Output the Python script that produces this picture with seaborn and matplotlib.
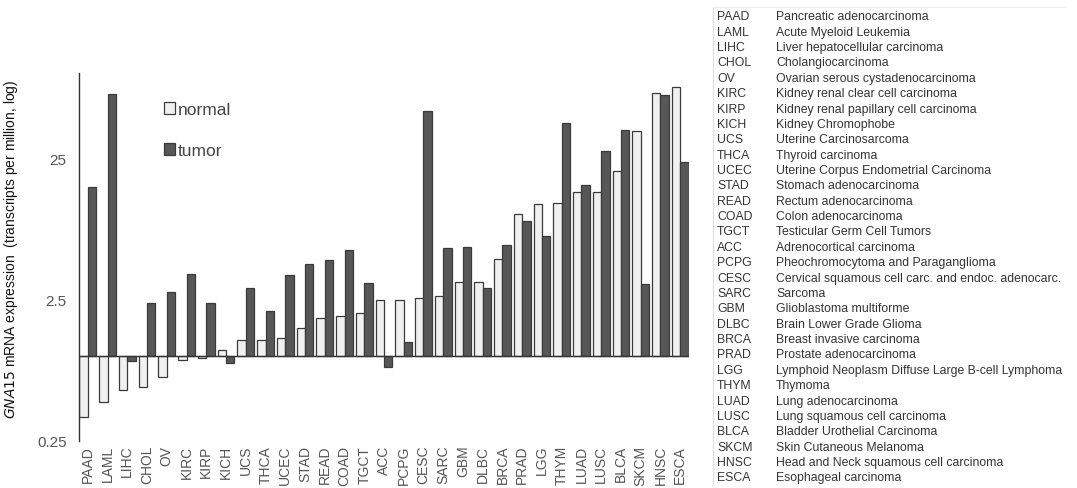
import numpy as np
import pandas as pd
import matplotlib
matplotlib.use("Agg")
import matplotlib.pyplot as plt
from matplotlib.patches import Patch
from matplotlib.lines import Line2D
import seaborn as sns

categories = ["PAAD", "LAML", "LIHC", "CHOL", "OV", "KIRC", "KIRP", "KICH", "UCS", "THCA",
              "UCEC", "STAD", "READ", "COAD", "TGCT", "ACC", "PCPG", "CESC", "SARC", "GBM",
              "DLBC", "BRCA", "PRAD", "LGG", "THYM", "LUAD", "LUSC", "BLCA", "SKCM", "HNSC", "ESCA"]
normal = [0.37, 0.47, 0.57, 0.60, 0.71, 0.93, 0.96, 1.10, 1.28, 1.28,
          1.33, 1.58, 1.84, 1.91, 1.99, 2.49, 2.49, 2.55, 2.65, 3.31,
          3.31, 4.85, 10.1, 11.8, 12.0, 14.5, 14.5, 20.3, 38.8, 72.5, 79.0]
tumor = [15.6, 71.0, 0.91, 2.35, 2.80, 3.77, 2.35, 0.88, 3.02, 2.06,
         3.69, 4.47, 4.74, 5.62, 3.24, 0.83, 1.24, 53.5, 5.74, 5.83,
         3.02, 6.06, 9.0, 7.06, 44.2, 16.2, 28.1, 39.6, 3.19, 69.5, 23.3]
full_names = ["Pancreatic adenocarcinoma", "Acute Myeloid Leukemia", "Liver hepatocellular carcinoma",
              "Cholangiocarcinoma", "Ovarian serous cystadenocarcinoma", "Kidney renal clear cell carcinoma",
              "Kidney renal papillary cell carcinoma", "Kidney Chromophobe", "Uterine Carcinosarcoma",
              "Thyroid carcinoma", "Uterine Corpus Endometrial Carcinoma", "Stomach adenocarcinoma",
              "Rectum adenocarcinoma", "Colon adenocarcinoma", "Testicular Germ Cell Tumors",
              "Adrenocortical carcinoma", "Pheochromocytoma and Paraganglioma",
              "Cervical squamous cell carc. and endoc. adenocarc.", "Sarcoma", "Glioblastoma multiforme",
              "Brain Lower Grade Glioma", "Breast invasive carcinoma", "Prostate adenocarcinoma",
              "Lymphoid Neoplasm Diffuse Large B-cell Lymphoma", "Thymoma", "Lung adenocarcinoma",
              "Lung squamous cell carcinoma", "Bladder Urothelial Carcinoma", "Skin Cutaneous Melanoma",
              "Head and Neck squamous cell carcinoma", "Esophageal carcinoma"]
y_ticks = [0.25, 2.5, 25]
y_tick_labels = ["0.25", "2.5", "25"]
groups = ["normal", "tumor"]

sns.set_style("white")
plt.rcParams['font.family'] = ['Liberation Sans', 'DejaVu Sans']

df = pd.DataFrame({
    "cancer": categories * 2,
    "group": ["normal"] * len(categories) + ["tumor"] * len(categories),
    "tpm": normal + tumor,
})
df["logtpm"] = np.log10(df["tpm"])

W, H = 1077, 489
fig = plt.figure(figsize=(W / 100, H / 100), dpi=100)
ax_w = 689 - 79
ax_h = 441.7 - 74
ax = fig.add_axes([79 / W, (H - 441.7) / H, ax_w / W, ax_h / H])

palette = {"normal": "#f0f0f0", "tumor": "#575757"}
sns.barplot(data=df, x="cancer", y="logtpm", hue="group", hue_order=groups,
            order=categories, palette=palette, width=0.85, gap=0,
            edgecolor="#3a3a3a", linewidth=0.9, saturation=1, ax=ax, legend=False)

ax.set_xlim(-0.45, len(categories) - 0.55)
ax.set_ylim(np.log10(0.25), 2.0)
ax.set_yticks(np.log10(y_ticks))
ax.set_yticklabels(y_tick_labels, fontsize=11, color="#555555")
ax.tick_params(axis="y", length=0, pad=9)
ax.tick_params(axis="x", length=0, pad=3)
ax.set_xticks(range(len(categories)))
ax.set_xticklabels(categories, rotation=90, fontsize=10, color="#555555")
ax.set_xlabel("")
ax.set_ylabel(r"$\it{GNA15}$ mRNA expression  (transcripts per million, log)", fontsize=10,
              color="#111111")
ax.yaxis.set_label_coords((20 - 79) / ax_w, (441.7 - 249) / ax_h)
for s in ["top", "right", "bottom"]:
    ax.spines[s].set_visible(False)
ax.spines["left"].set_color("#333333")
ax.spines["left"].set_linewidth(1.0)
ax.axhline(0, color="#333333", linewidth=1.0, zorder=5)

handles = [Patch(facecolor=palette[g], edgecolor="#3a3a3a", linewidth=0.9, label=g) for g in groups]
leg = ax.legend(handles=handles, loc="upper left",
                bbox_to_anchor=((157 - 79) / ax_w, (441.7 - 96) / ax_h),
                frameon=False, fontsize=12.5, handlelength=0.65, handleheight=0.65,
                handletextpad=0.15, labelspacing=1.5, borderaxespad=0)
for t in leg.get_texts():
    t.set_color("#444444")

# side table
x_abbr, x_name = 717 / W, 776 / W
for i, (abbr, name) in enumerate(zip(categories, full_names)):
    ypx = 17.3 + i * 15.37
    fig.text(x_abbr, 1 - ypx / H, abbr, fontsize=8.8, color="#333333", va="center", ha="left")
    fig.text(x_name, 1 - ypx / H, name, fontsize=8.8, color="#333333", va="center", ha="left")
fig.add_artist(Line2D([713 / W, 713 / W], [1 - 8 / H, 1 - 486 / H], color="#dddddd", linewidth=0.8))
fig.add_artist(Line2D([713 / W, 1066 / W], [1 - 8 / H, 1 - 8 / H], color="#eeeeee", linewidth=0.8))

fig.savefig("out.png", dpi=100)
